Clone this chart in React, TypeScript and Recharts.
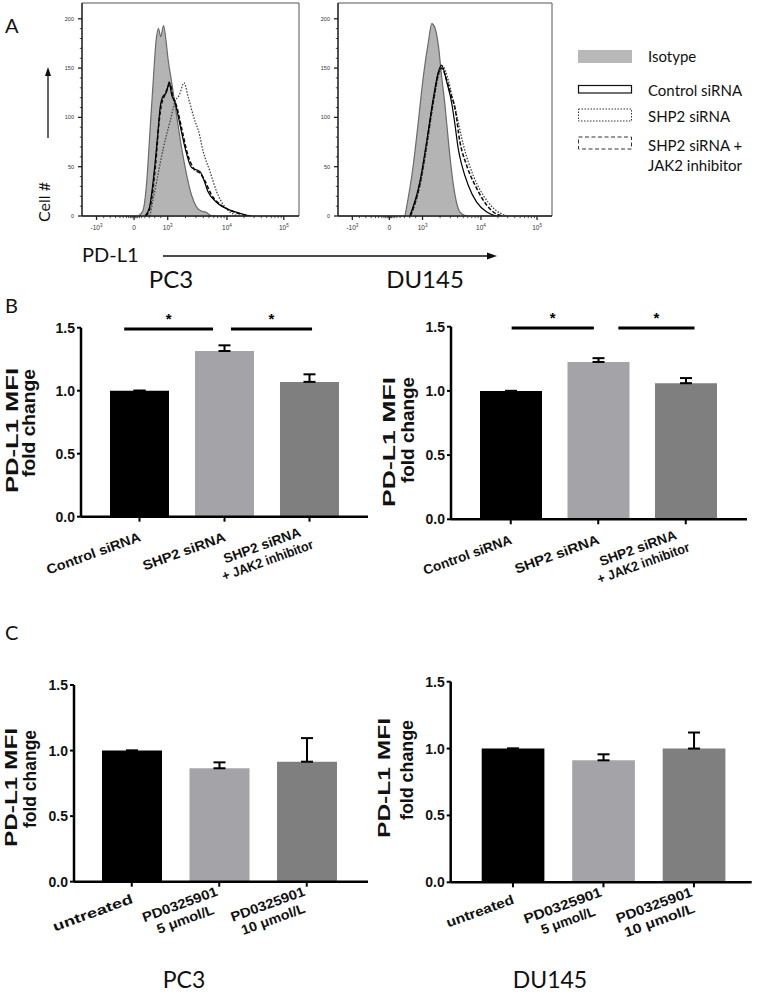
import React from 'react';
import {
  Area,
  Bar,
  BarChart,
  Cell,
  ComposedChart,
  ErrorBar,
  Line,
  ReferenceArea,
  ReferenceLine,
  XAxis,
  YAxis,
} from 'recharts';

const LATO = 'Lato, "Open Sans", sans-serif';
const ARIAL = '"Liberation Sans", Arial, sans-serif';

// ---------- panel A: flow histograms (x = position along the biexponential axis, 0-100) ----------
const histTickPos = [6.7, 24, 39.5, 66.8, 93];
const histTickBase = ['-10', '0', '10', '10', '10'];
const histTickExp = ['3', '', '3', '4', '5'];
const histMinorPos = [
  10, 13, 15.5, 17.5, 19, 20.5, 21.5, 22.3, 23, 23.5, 24.5, 25, 25.7, 26.5, 27.5, 29, 31, 33.5, 36.3,
  47.7, 52.5, 55.9, 58.5, 60.7, 62.5, 64.1, 65.5, 74.7, 79.3, 82.6, 85.1, 87.2, 88.9, 90.4, 91.8,
];
const histYMajor = [0, 50, 100, 150, 200];
const histYAll = [0, 10, 20, 30, 40, 50, 60, 70, 80, 90, 100, 110, 120, 130, 140, 150, 160, 170, 180, 190, 200];

const pc3Isotype = [
  { x: 26, y: 0 }, { x: 28, y: 5 }, { x: 29.8, y: 34 }, { x: 31.3, y: 85 }, { x: 32.8, y: 136 },
  { x: 34.1, y: 177 }, { x: 35.2, y: 190 }, { x: 36.3, y: 182 }, { x: 37.6, y: 193 }, { x: 38.8, y: 176 },
  { x: 39.6, y: 160 }, { x: 41.3, y: 136 }, { x: 43.6, y: 102 }, { x: 45.9, y: 69 }, { x: 48.2, y: 42 },
  { x: 50.5, y: 21 }, { x: 52.8, y: 9 }, { x: 55, y: 5 }, { x: 57, y: 4 }, { x: 59, y: 1 }, { x: 61, y: 0 },
];
const pc3Control = [
  { x: 29, y: 0 }, { x: 31, y: 8 }, { x: 33.6, y: 52 }, { x: 35, y: 85 }, { x: 36, y: 110 }, { x: 37, y: 120 },
  { x: 39, y: 126 }, { x: 40.2, y: 136 }, { x: 41.3, y: 123 }, { x: 42.9, y: 115 }, { x: 45.2, y: 92 },
  { x: 47.5, y: 69 }, { x: 50.5, y: 49 }, { x: 54.4, y: 45 }, { x: 55.9, y: 38 }, { x: 58.2, y: 24 },
  { x: 62, y: 14 }, { x: 68.2, y: 6 }, { x: 74, y: 2 }, { x: 77, y: 0 },
];
const pc3Shp2 = [
  { x: 31.3, y: 0 }, { x: 34.4, y: 35 }, { x: 37.5, y: 69 }, { x: 40.6, y: 96 }, { x: 42.9, y: 116 },
  { x: 44.9, y: 123 }, { x: 47, y: 135 }, { x: 49, y: 120 }, { x: 52.1, y: 96 }, { x: 53.6, y: 87 },
  { x: 55.9, y: 65 }, { x: 59, y: 45 }, { x: 62, y: 25 }, { x: 65.9, y: 9 }, { x: 69.7, y: 2 }, { x: 72, y: 0 },
];
const pc3Jak2 = [
  { x: 29.5, y: 0 }, { x: 31.5, y: 10 }, { x: 34, y: 55 }, { x: 35.5, y: 95 }, { x: 36.5, y: 112 },
  { x: 38, y: 122 }, { x: 39.5, y: 130 }, { x: 40.6, y: 134 }, { x: 41.8, y: 122 }, { x: 43.5, y: 112 },
  { x: 46, y: 88 }, { x: 48.5, y: 64 }, { x: 51.5, y: 48 }, { x: 55, y: 42 }, { x: 57, y: 34 },
  { x: 59.5, y: 22 }, { x: 63.5, y: 12 }, { x: 69, y: 5 }, { x: 75, y: 1 }, { x: 78, y: 0 },
];
const du145Isotype = [
  { x: 31.3, y: 0 }, { x: 35.2, y: 52 }, { x: 37.5, y: 95 }, { x: 39.9, y: 142 }, { x: 42.2, y: 176 },
  { x: 43.8, y: 195 }, { x: 45.3, y: 191 }, { x: 46.9, y: 173 }, { x: 48.4, y: 142 }, { x: 50, y: 112 },
  { x: 51.5, y: 78 }, { x: 53.1, y: 45 }, { x: 54.7, y: 21 }, { x: 57, y: 4 }, { x: 60, y: 0 },
];
const du145Control = [
  { x: 33.6, y: 0 }, { x: 38.3, y: 35 }, { x: 41.4, y: 75 }, { x: 44.5, y: 119 }, { x: 46.9, y: 146 },
  { x: 48.4, y: 153 }, { x: 50.8, y: 136 }, { x: 53.1, y: 115 }, { x: 54.7, y: 92 }, { x: 56.2, y: 68 },
  { x: 57.8, y: 52 }, { x: 60.9, y: 31 }, { x: 64.8, y: 14 }, { x: 69.5, y: 4 }, { x: 74, y: 0 },
];
const du145Shp2 = [
  { x: 34, y: 0 }, { x: 38.5, y: 33 }, { x: 41.6, y: 72 }, { x: 44.7, y: 116 }, { x: 47.2, y: 144 },
  { x: 48.9, y: 152 }, { x: 51.5, y: 138 }, { x: 53.5, y: 120 }, { x: 55.5, y: 102 }, { x: 58.6, y: 72 },
  { x: 63.2, y: 41 }, { x: 67.9, y: 21 }, { x: 72.6, y: 8 }, { x: 78.8, y: 0 },
];
const du145Jak2 = [
  { x: 33.8, y: 0 }, { x: 38.4, y: 34 }, { x: 41.5, y: 74 }, { x: 44.6, y: 118 }, { x: 47, y: 145 },
  { x: 48.5, y: 150 }, { x: 50.5, y: 140 }, { x: 52.5, y: 125 }, { x: 54.7, y: 109 }, { x: 57, y: 75 },
  { x: 60, y: 52 }, { x: 64.8, y: 28 }, { x: 69.5, y: 11 }, { x: 74, y: 2 }, { x: 77, y: 0 },
];

// ---------- panels B / C: fold change bars ----------
const sirnaCategories = ['Control siRNA', 'SHP2 siRNA', 'SHP2 siRNA\n+ JAK2 inhibitor'];
const mekCategories = ['untreated', 'PD0325901\n5 μmol/L', 'PD0325901\n10 μmol/L'];
const pc3SirnaMean = [1.0, 1.315, 1.07];
const pc3SirnaErr = [0, 0.045, 0.06];
const du145SirnaMean = [1.0, 1.225, 1.06];
const du145SirnaErr = [0, 0.03, 0.04];
const pc3MekMean = [1.0, 0.865, 0.915];
const pc3MekErr = [0, 0.045, 0.18];
const du145MekMean = [1.0, 0.912, 1.0];
const du145MekErr = [0, 0.045, 0.12];
const barColors = ['#000000', '#a4a4a8', '#7f7f7f'];
const foldTicks = [0, 0.5, 1, 1.5];

// significance brackets: between category indices, ends nudged by a fraction of a band
const pc3Sig = [
  { from: 0, to: 1, dFrom: -0.18, dTo: -0.135, y: 1.49 },
  { from: 1, to: 2, dFrom: 0.076, dTo: 0.03, y: 1.49 },
];
const du145Sig = [
  { from: 0, to: 1, dFrom: 0.01, dTo: -0.05, y: 1.49 },
  { from: 1, to: 2, dFrom: 0.23, dTo: 0.1, y: 1.49 },
];

function HistXTick(props: any) {
  const { x, y, payload } = props;
  const idx = histTickPos.indexOf(payload.value);
  const major = idx >= 0;
  return (
    <g>
      <line x1={x} x2={x} y1={y} y2={y + (major ? 4 : 2.2)} stroke="#222" strokeWidth={major ? 1.3 : 0.8} />
      {major && (
        <text x={x} y={y + 14} textAnchor="middle" fontSize={6.5} fill="#333" fontFamily={ARIAL}>
          {histTickBase[idx]}
          {histTickExp[idx] && (
            <tspan dy={-3} fontSize={4.5}>
              {histTickExp[idx]}
            </tspan>
          )}
        </text>
      )}
    </g>
  );
}

function HistYTick(props: any) {
  const { x, y, payload } = props;
  const major = histYMajor.includes(payload.value);
  return (
    <g>
      <line x1={x - (major ? 4 : 2.2)} x2={x} y1={y} y2={y} stroke="#222" strokeWidth={major ? 1.3 : 0.8} />
      {major && (
        <text x={x - 8} y={y + 2} textAnchor="end" fontSize={5.5} fill="#333" fontFamily={ARIAL}>
          {payload.value}
        </text>
      )}
    </g>
  );
}

type HistSpec = {
  left: number;
  plotW: number;
  isotype: { x: number; y: number }[];
  control: { x: number; y: number }[];
  shp2: { x: number; y: number }[];
  jak2: { x: number; y: number }[];
};

function HistogramPanel({ spec }: { spec: HistSpec }) {
  return (
    <div style={{ position: 'absolute', left: spec.left, top: 0 }}>
      <ComposedChart width={22 + spec.plotW + 4} height={236} margin={{ top: 3, right: 4, bottom: 0, left: 0 }}>
        <XAxis
          type="number"
          dataKey="x"
          domain={[0, 100]}
          ticks={[...histTickPos, ...histMinorPos]}
          interval={0}
          tick={<HistXTick />}
          tickLine={false}
          tickSize={0}
          tickMargin={0}
          height={20}
          axisLine={{ stroke: '#222', strokeWidth: 1.3 }}
          allowDataOverflow
        />
        <YAxis
          type="number"
          domain={[0, 216]}
          ticks={histYAll}
          interval={0}
          tick={<HistYTick />}
          tickLine={false}
          tickSize={0}
          tickMargin={0}
          width={22}
          axisLine={{ stroke: '#222', strokeWidth: 1.3 }}
          allowDataOverflow
        />
        <ReferenceArea x1={0} x2={100} y1={0} y2={216} fill="none" stroke="#555" strokeWidth={1} />
        <Area
          data={spec.isotype}
          dataKey="y"
          type="monotone"
          fill="#b4b4b4"
          fillOpacity={1}
          stroke="#6a6a6a"
          strokeWidth={1.2}
          isAnimationActive={false}
        />
        <Line data={spec.shp2} dataKey="y" type="monotone" stroke="#444" strokeWidth={1.3} strokeDasharray="1.5 1.5" dot={false} isAnimationActive={false} />
        <Line data={spec.jak2} dataKey="y" type="monotone" stroke="#111" strokeWidth={1.6} strokeDasharray="4 2" dot={false} isAnimationActive={false} />
        <Line data={spec.control} dataKey="y" type="monotone" stroke="#000" strokeWidth={1.2} dot={false} isAnimationActive={false} />
      </ComposedChart>
    </div>
  );
}

const SLANT_FS = 13.5;

function SlantTick(props: any) {
  const { x, y, payload, index, labelDy, labelLens } = props;
  const lines = String(payload.value).split('\n');
  const lens: number[] = labelLens[index] ?? [];
  const wMax = Math.max(...lens);
  const lh = 16;
  return (
    <g transform={`translate(${x + 2},${y - 5 + labelDy}) rotate(-20)`}>
      {lines.map((l, i) => (
        <text
          key={i}
          x={-wMax / 2}
          y={(i - (lines.length - 1) / 2) * lh}
          textAnchor="middle"
          textLength={lens[i]}
          lengthAdjust="spacingAndGlyphs"
          fontSize={SLANT_FS}
          fontWeight="bold"
          fontFamily={ARIAL}
          fill="#111"
        >
          {l}
        </text>
      ))}
    </g>
  );
}

type YTitleSpec = { x1: number; top1: number; len1: number; x2: number; top2: number; len2: number };

function YTitle({ t }: { t: YTitleSpec }) {
  const common = { textAnchor: 'end' as const, fontWeight: 'bold', fontFamily: ARIAL, fill: '#111', lengthAdjust: 'spacingAndGlyphs' };
  return (
    <g>
      <text {...common} fontSize={17} textLength={t.len1} transform={`translate(${t.x1},${t.top1}) rotate(-90)`}>
        PD-L1 MFI
      </text>
      <text {...common} fontSize={18} textLength={t.len2} transform={`translate(${t.x2},${t.top2}) rotate(-90)`}>
        fold change
      </text>
    </g>
  );
}

type SigSpec = { from: number; to: number; dFrom: number; dTo: number; y: number };

type BarSpec = {
  left: number;
  top: number;
  plotLeft: number;
  plotTop: number;
  plotW: number;
  plotH: number;
  padL: number;
  padR: number;
  barW: number;
  labelDy: number;
  labelLens: number[][];
  categories: string[];
  mean: number[];
  err: number[];
  sig?: SigSpec[];
  title: YTitleSpec;
};

function FoldChangeChart({ spec }: { spec: BarSpec }) {
  const data = spec.categories.map((name, i) => ({ name, mean: spec.mean[i], err: [0, spec.err[i]] }));
  const yW = spec.plotLeft - spec.left;
  const mTop = spec.plotTop - spec.top;
  const xH = 72;
  const band = (spec.plotW - spec.padL - spec.padR) / spec.categories.length;
  return (
    <div style={{ position: 'absolute', left: spec.left, top: spec.top }}>
      <BarChart
        width={yW + spec.plotW + 6}
        height={mTop + spec.plotH + xH}
        data={data}
        margin={{ top: mTop, right: 6, bottom: 0, left: 0 }}
      >
        <XAxis
          dataKey="name"
          interval={0}
          height={xH}
          padding={{ left: spec.padL, right: spec.padR }}
          axisLine={{ stroke: '#000', strokeWidth: 2.5 }}
          tickLine={{ stroke: '#000', strokeWidth: 2 }}
          tickSize={5}
          tickMargin={0}
          tick={<SlantTick labelDy={spec.labelDy} labelLens={spec.labelLens} />}
        />
        <YAxis
          width={yW}
          domain={[0, 1.5]}
          ticks={foldTicks}
          interval={0}
          tickFormatter={(v: number) => v.toFixed(1)}
          axisLine={{ stroke: '#000', strokeWidth: 2.5 }}
          tickLine={{ stroke: '#000', strokeWidth: 2 }}
          tickSize={4}
          tickMargin={2}
          tick={{ fill: '#111', fontSize: 14, fontWeight: 700, fontFamily: ARIAL }}
          label={{ content: () => <YTitle t={spec.title} /> }}
        />
        <Bar dataKey="mean" barSize={spec.barW} isAnimationActive={false}>
          {data.map((d, i) => (
            <Cell key={d.name} fill={barColors[i]} />
          ))}
          <ErrorBar dataKey="err" direction="y" width={6} stroke="#000" strokeWidth={2} />
        </Bar>
        {(spec.sig ?? []).map((s, i) => (
          <ReferenceLine
            key={i}
            segment={[
              { x: spec.categories[s.from], y: s.y },
              { x: spec.categories[s.to], y: s.y },
            ]}
            ifOverflow="visible"
            shape={(p: any) => {
              const a = p.x1 + s.dFrom * band;
              const b = p.x2 + s.dTo * band;
              return (
                <g>
                  <line x1={a} x2={b} y1={p.y1} y2={p.y2} stroke="#000" strokeWidth={3} />
                  <text x={(a + b) / 2} y={p.y1 - 5} textAnchor="middle" fontSize={15} fontWeight={700} fontFamily={ARIAL} fill="#000">
                    *
                  </text>
                </g>
              );
            }}
          />
        ))}
      </BarChart>
    </div>
  );
}

function Overlay() {
  const txt = { fontFamily: LATO, fill: '#111' };
  return (
    <svg width={757} height={995} style={{ position: 'absolute', left: 0, top: 0 }}>
      <text x={5} y={33} fontSize={20} {...txt}>A</text>
      <text x={5} y={313} fontSize={20} {...txt}>B</text>
      <text x={5} y={640} fontSize={20} {...txt}>C</text>

      <text transform="translate(50,202) rotate(-90)" textAnchor="middle" fontSize={16} {...txt}>Cell #</text>
      <line x1={48} y1={138} x2={48} y2={74} stroke="#111" strokeWidth={1.3} />
      <polygon points="48,67 45,76 51,76" fill="#111" />

      <text x={82} y={262} fontSize={20} {...txt}>PD-L1</text>
      <line x1={163} y1={256} x2={489} y2={256} stroke="#111" strokeWidth={1.3} />
      <polygon points="497,256 487,252.5 487,259.5" fill="#111" />

      <text x={171} y={288} textAnchor="middle" fontSize={24} {...txt}>PC3</text>
      <text x={425} y={288} textAnchor="middle" fontSize={24} {...txt}>DU145</text>

      <rect x={578} y={50} width={54} height={13} fill="#b8b8b8" />
      <rect x={578.5} y={85.5} width={53} height={7.5} fill="none" stroke="#111" strokeWidth={1.2} />
      <rect x={578.5} y={109} width={53} height={12} fill="none" stroke="#333" strokeWidth={1} strokeDasharray="1.5 1.5" />
      <rect x={578.5} y={137} width={53} height={12} fill="none" stroke="#333" strokeWidth={1} strokeDasharray="4 2.5" />
      <text x={648} y={62} fontSize={15} {...txt}>Isotype</text>
      <text x={648} y={96} fontSize={15} {...txt}>Control siRNA</text>
      <text x={648} y={122} fontSize={15} {...txt}>SHP2 siRNA</text>
      <text x={648} y={151} fontSize={15} {...txt}>SHP2 siRNA +</text>
      <text x={648} y={171} fontSize={15} {...txt}>JAK2 inhibitor</text>

      <text x={184} y={988} textAnchor="middle" fontSize={23} {...txt}>PC3</text>
      <text x={550} y={988} textAnchor="middle" fontSize={23} {...txt}>DU145</text>
    </svg>
  );
}

export default function App() {
  return (
    <div style={{ position: 'absolute', left: 0, top: 0, width: 757, height: 995, background: '#fff', overflow: 'hidden' }}>
      <Overlay />
      <HistogramPanel spec={{ left: 60, plotW: 217, isotype: pc3Isotype, control: pc3Control, shp2: pc3Shp2, jak2: pc3Jak2 }} />
      <HistogramPanel spec={{ left: 316, plotW: 214, isotype: du145Isotype, control: du145Control, shp2: du145Shp2, jak2: du145Jak2 }} />
      <FoldChangeChart
        spec={{
          left: 0, top: 296, plotLeft: 81, plotTop: 327.7, plotW: 287, plotH: 189, padL: 16, padR: 16, barW: 59, labelDy: 24,
          labelLens: [[99], [87], [81, 96]],
          categories: sirnaCategories, mean: pc3SirnaMean, err: pc3SirnaErr, sig: pc3Sig,
          title: { x1: 18, top1: 72, len1: 125, x2: 35, top2: 73, len2: 108 },
        }}
      />
      <FoldChangeChart
        spec={{
          left: 370, top: 296, plotLeft: 451, plotTop: 326.7, plotW: 296, plotH: 192.6, padL: 16, padR: 17.5, barW: 62, labelDy: 24,
          labelLens: [[93], [89], [81, 97]],
          categories: sirnaCategories, mean: du145SirnaMean, err: du145SirnaErr, sig: du145Sig,
          title: { x1: 25, top1: 81, len1: 130, x2: 44, top2: 81, len2: 106 },
        }}
      />
      <FoldChangeChart
        spec={{
          left: 0, top: 640, plotLeft: 74, plotTop: 685, plotW: 294, plotH: 196.7, padL: 14, padR: 17.5, barW: 60, labelDy: 21,
          labelLens: [[84], [79, 60], [78, 67]],
          categories: mekCategories, mean: pc3MekMean, err: pc3MekErr,
          title: { x1: 17, top1: 88, len1: 119, x2: 36, top2: 90, len2: 98 },
        }}
      />
      <FoldChangeChart
        spec={{
          left: 370, top: 640, plotLeft: 450.7, plotTop: 681.7, plotW: 301, plotH: 200.6, padL: 17, padR: 12.5, barW: 62.7, labelDy: 21,
          labelLens: [[71], [82, 57], [80, 74]],
          categories: mekCategories, mean: du145MekMean, err: du145MekErr,
          title: { x1: 20, top1: 78, len1: 120, x2: 43, top2: 80, len2: 100 },
        }}
      />
    </div>
  );
}
